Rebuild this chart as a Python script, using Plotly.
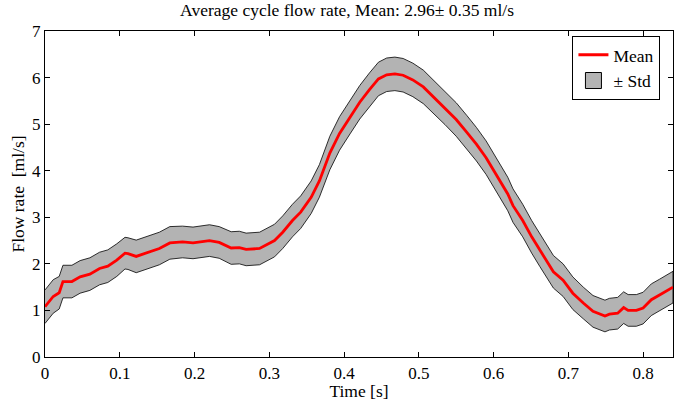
import plotly.graph_objects as go

# Time [s]
time_s = [0.000, 0.011, 0.019, 0.024, 0.036, 0.047, 0.060, 0.073, 0.084, 0.096,
          0.107, 0.111, 0.122, 0.136, 0.153, 0.167, 0.184, 0.198, 0.211, 0.220,
          0.233, 0.249, 0.260, 0.269, 0.287, 0.296, 0.307, 0.318, 0.331, 0.342,
          0.356, 0.367, 0.381, 0.394, 0.408, 0.421, 0.434, 0.446, 0.457, 0.468,
          0.479, 0.492, 0.506, 0.521, 0.535, 0.550, 0.564, 0.577, 0.590, 0.604,
          0.619, 0.626, 0.639, 0.651, 0.662, 0.680, 0.693, 0.706, 0.720, 0.733,
          0.749, 0.755, 0.766, 0.774, 0.780, 0.791, 0.800, 0.811, 0.822, 0.840]

# Mean flow rate [ml/s]
mean_flow = [1.08, 1.30, 1.38, 1.62, 1.62, 1.72, 1.78, 1.90, 1.95, 2.08,
             2.23, 2.22, 2.16, 2.23, 2.33, 2.45, 2.47, 2.45, 2.48, 2.50,
             2.46, 2.34, 2.35, 2.31, 2.33, 2.40, 2.50, 2.68, 2.93, 3.11,
             3.43, 3.78, 4.38, 4.80, 5.15, 5.47, 5.74, 5.97, 6.06, 6.08,
             6.05, 5.95, 5.80, 5.56, 5.35, 5.10, 4.83, 4.57, 4.28, 3.90,
             3.50, 3.25, 2.93, 2.58, 2.29, 1.83, 1.65, 1.37, 1.16, 0.98,
             0.88, 0.92, 0.94, 1.06, 1.00, 1.00, 1.05, 1.23, 1.33, 1.50]

# Standard deviation [ml/s]
std_flow = [0.36, 0.36, 0.35, 0.35, 0.35, 0.35, 0.35, 0.35, 0.35, 0.35,
            0.34, 0.34, 0.35, 0.35, 0.35, 0.35, 0.34, 0.34, 0.34, 0.34,
            0.34, 0.35, 0.35, 0.35, 0.35, 0.35, 0.35, 0.35, 0.35, 0.35,
            0.35, 0.35, 0.36, 0.36, 0.36, 0.36, 0.36, 0.36, 0.36, 0.36,
            0.36, 0.36, 0.36, 0.36, 0.36, 0.36, 0.36, 0.36, 0.36, 0.36,
            0.36, 0.36, 0.35, 0.35, 0.35, 0.35, 0.35, 0.35, 0.34, 0.34,
            0.34, 0.34, 0.34, 0.34, 0.34, 0.34, 0.34, 0.34, 0.34, 0.34]

x_ticks = [0, 0.1, 0.2, 0.3, 0.4, 0.5, 0.6, 0.7, 0.8]
x_tick_labels = ["0", "0.1", "0.2", "0.3", "0.4", "0.5", "0.6", "0.7", "0.8"]
y_ticks = [0, 1, 2, 3, 4, 5, 6, 7]

upper = [m + s for m, s in zip(mean_flow, std_flow)]
lower = [m - s for m, s in zip(mean_flow, std_flow)]

FONT = "Liberation Serif, Times New Roman, serif"
BAND_GRAY = "#b3b3b3"

fig = go.Figure()
# shaded ± std band
fig.add_trace(go.Scatter(
    x=time_s + time_s[::-1],
    y=upper + lower[::-1],
    fill="toself",
    fillcolor=BAND_GRAY,
    line=dict(color="black", width=0.8),
    mode="lines",
    name="\u00b1 Std",
    showlegend=False,
    hoverinfo="skip",
))
# mean curve
fig.add_trace(go.Scatter(
    x=time_s, y=mean_flow,
    mode="lines",
    line=dict(color="#ff0000", width=2.8),
    name="Mean",
    legendrank=1,
))
# legend patch for the band (gray box with black edge)
fig.add_trace(go.Scatter(
    x=[None], y=[None],
    mode="markers",
    marker=dict(symbol="square", size=16, color=BAND_GRAY,
                line=dict(color="black", width=1)),
    name="\u00b1 Std",
    legendrank=2,
))

axis_common = dict(
    showline=True, linecolor="black", linewidth=1.2, mirror="ticks",
    ticks="inside", ticklen=5, tickcolor="black", tickwidth=1,
    showgrid=False, zeroline=False, automargin=False,
    tickfont=dict(family=FONT, size=17, color="black"),
)

fig.update_layout(
    width=694, height=401,
    margin=dict(l=45, r=21, t=31, b=44, autoexpand=False),
    paper_bgcolor="white", plot_bgcolor="white",
    font=dict(family=FONT, color="black"),
    title=dict(
        text="Average cycle flow rate, Mean: 2.96\u00b1 0.35 ml/s",
        x=0.5, xanchor="center", y=0.99, yanchor="top",
        font=dict(family=FONT, size=17.5, color="black"),
    ),
    xaxis=dict(
        range=[0, 0.84], tickvals=x_ticks, ticktext=x_tick_labels,
        title=dict(text="Time [s]", font=dict(family=FONT, size=17.5), standoff=0),
        **axis_common,
    ),
    yaxis=dict(
        range=[0, 7], tickvals=y_ticks,
        title=dict(text="Flow rate\u00a0 [ml/s]", font=dict(family=FONT, size=17.5), standoff=2),
        **axis_common,
    ),
    legend=dict(
        x=0.98, y=0.985, xanchor="right", yanchor="top",
        bgcolor="white", bordercolor="black", borderwidth=1,
        font=dict(family=FONT, size=17.5, color="black"),
        itemwidth=30, tracegroupgap=0,
    ),
    showlegend=True,
)

fig.write_html("out.html", config={"displayModeBar": False},
               post_script="document.body.style.margin='0';")
